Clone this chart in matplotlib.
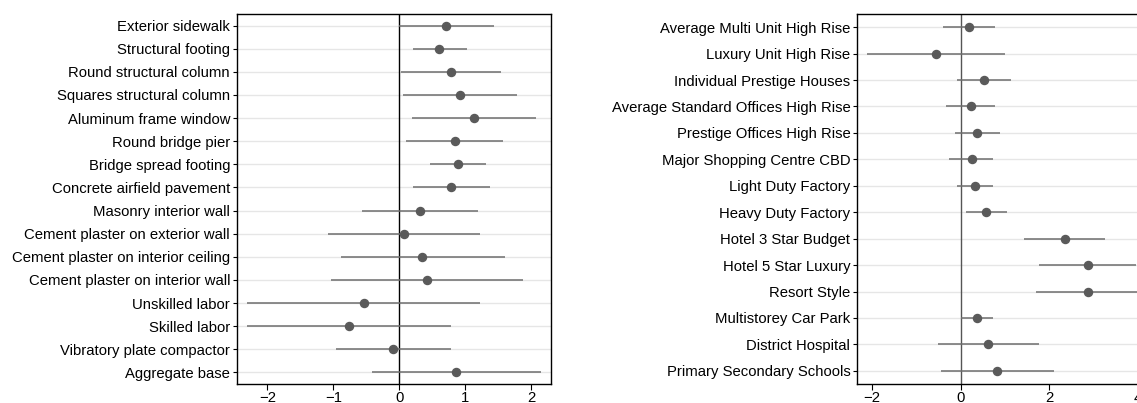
import numpy as np
import matplotlib.pyplot as plt

plt.rcParams['font.family'] = ['Liberation Sans', 'DejaVu Sans']

# left panel: items
items = ['Exterior sidewalk', 'Structural footing', 'Round structural column',
         'Squares structural column', 'Aluminum frame window', 'Round bridge pier',
         'Bridge spread footing', 'Concrete airfield pavement', 'Masonry interior wall',
         'Cement plaster on exterior wall', 'Cement plaster on interior ceiling',
         'Cement plaster on interior wall', 'Unskilled labor', 'Skilled labor',
         'Vibratory plate compactor', 'Aggregate base']
items_est = [0.71, 0.61, 0.78, 0.92, 1.14, 0.84, 0.89, 0.79,
             0.31, 0.07, 0.35, 0.42, -0.53, -0.76, -0.09, 0.86]
items_lo = [0.00, 0.21, 0.02, 0.06, 0.19, 0.10, 0.47, 0.21,
            -0.57, -1.08, -0.88, -1.03, -2.31, -2.31, -0.96, -0.42]
items_hi = [1.43, 1.02, 1.54, 1.79, 2.08, 1.57, 1.31, 1.37,
            1.20, 1.22, 1.60, 1.87, 1.23, 0.78, 0.79, 2.15]

# right panel: building types
btypes = ['Average Multi Unit High Rise', 'Luxury Unit High Rise', 'Individual Prestige Houses',
          'Average Standard Offices High Rise', 'Prestige Offices High Rise',
          'Major Shopping Centre CBD', 'Light Duty Factory', 'Heavy Duty Factory',
          'Hotel 3 Star Budget', 'Hotel 5 Star Luxury', 'Resort Style',
          'Multistorey Car Park', 'District Hospital', 'Primary Secondary Schools']
btypes_est = [0.18, -0.55, 0.52, 0.23, 0.38, 0.25, 0.32, 0.58, 2.35, 2.87, 2.87, 0.36, 0.63, 0.83]
btypes_lo = [-0.40, -2.11, -0.08, -0.33, -0.12, -0.26, -0.08, 0.12, 1.44, 1.77, 1.70, 0.01, -0.51, -0.44]
btypes_hi = [0.77, 1.01, 1.13, 0.77, 0.90, 0.74, 0.74, 1.04, 3.25, 3.97, 4.05, 0.74, 1.77, 2.11]


def coef_panel(ax, labels, est, lo, hi, xlim, zero_color):
    n = len(labels)
    y = np.arange(n)
    for yy in y:
        ax.axhline(yy, color='#e6e6e6', lw=1.0, zorder=0)
    ax.axvline(0, color=zero_color, lw=1.0, zorder=1)
    ax.hlines(y, lo, hi, color='#6e6e6e', lw=1.1, zorder=2)
    ax.plot(est, y, 'o', color='#5a5a5a', ms=5.8, zorder=3)
    ax.set_yticks(y)
    ax.set_yticklabels(labels, fontsize=10.7)
    ax.set_ylim(n - 0.5, -0.5)
    ax.set_xlim(*xlim)
    ax.tick_params(axis='y', length=3, width=0.8, pad=2)
    ax.tick_params(axis='x', length=4, width=0.8, labelsize=10.7, pad=1)
    for s in ax.spines.values():
        s.set_linewidth(1.0)
        s.set_color('black')


fig = plt.figure(figsize=(11.37, 4.03), dpi=100)

ax1 = fig.add_axes([0.2084, 0.0471, 0.2762, 0.9182])
coef_panel(ax1, items, items_est, items_lo, items_hi, (-2.46, 2.30), 'black')
ax1.set_xticks([-2, -1, 0, 1, 2])
ax1.set_xticklabels(['\u22122', '\u22121', '0', '1', '2'])

ax2 = fig.add_axes([0.754, 0.0471, 0.2623, 0.9182])
coef_panel(ax2, btypes, btypes_est, btypes_lo, btypes_hi, (-2.33, 4.4), '#555555')
ax2.set_xticks([-2, 0, 2, 4])
ax2.set_xticklabels(['\u22122', '0', '2', '4'])

fig.savefig('out.png', dpi=100)
